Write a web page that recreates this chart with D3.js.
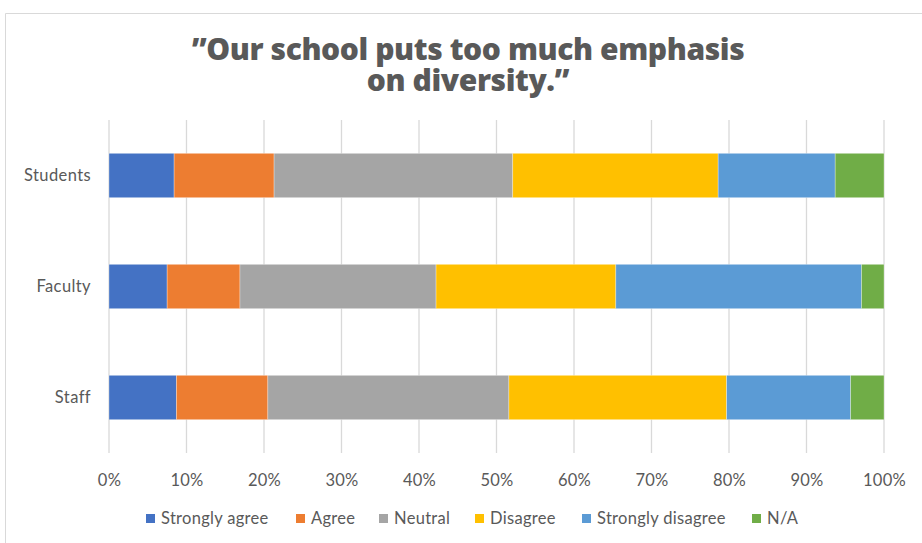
<!DOCTYPE html>
<html><head><meta charset="utf-8">
<script src="https://cdn.jsdelivr.net/npm/d3@7"></script>
<style>body{margin:0;background:#fff}svg{display:block}</style>
</head><body>
<script>
const categories = ["Students", "Faculty", "Staff"];
const seriesNames = ["Strongly agree", "Agree", "Neutral", "Disagree", "Strongly disagree", "N/A"];
const stronglyAgree    = [8.4, 7.5, 8.7];
const agree            = [12.9, 9.4, 11.8];
const neutral          = [30.8, 25.3, 31.1];
const disagree         = [26.5, 23.2, 28.1];
const stronglyDisagree = [15.1, 31.7, 16.0];
const na               = [6.3, 2.9, 4.3];
const tickValues = [0, 0.1, 0.2, 0.3, 0.4, 0.5, 0.6, 0.7, 0.8, 0.9, 1.0];
const colors = ["#4472C4", "#ED7D31", "#A5A5A5", "#FFC000", "#5B9BD5", "#70AD47"];
const titleLines = ["\u201DOur school puts too much emphasis", "on diversity.\u201D"];

const W = 922, H = 543;
const svg = d3.select("body").append("svg").attr("width", W).attr("height", H);
// chart border
svg.append("path").attr("d", `M5.5,${H} V13.5 H${W}`).attr("fill", "none").attr("stroke", "#d9d9d9").attr("stroke-width", 1);

const seriesArrays = [stronglyAgree, agree, neutral, disagree, stronglyDisagree, na];
const rows = categories.map((c, i) => {
  const o = {cat: c};
  seriesNames.forEach((s, j) => o[s] = seriesArrays[j][i]);
  return o;
});
const normRows = rows.map(r => {
  const tot = d3.sum(seriesNames, s => r[s]);
  const o = {cat: r.cat};
  seriesNames.forEach(s => o[s] = r[s] / tot);
  return o;
});
const stacked = d3.stack().keys(seriesNames)(normRows);

const x = d3.scaleLinear().domain([0, 1]).range([109, 884]);
const y = d3.scaleBand().domain(categories).range([120, 453]).paddingInner(0.6).paddingOuter(0.3);

// gridlines
svg.append("g").selectAll("line").data(tickValues).join("line")
  .attr("x1", d => x(d)).attr("x2", d => x(d))
  .attr("y1", 120).attr("y2", 453)
  .attr("stroke", "#d9d9d9").attr("stroke-width", 1.3);

// bars
svg.append("g").selectAll("g").data(stacked).join("g")
  .attr("fill", (d, i) => colors[i])
  .selectAll("rect").data(d => d).join("rect")
  .attr("x", d => x(d[0])).attr("width", d => x(d[1]) - x(d[0]))
  .attr("y", d => y(d.data.cat)).attr("height", y.bandwidth())
  .attr("stroke", "#ffffff").attr("stroke-opacity", 0.5).attr("stroke-width", 0.6);

const font = "Lato, 'Open Sans', sans-serif";
// x axis labels
const xAxis = d3.axisBottom(x).tickValues(tickValues).tickFormat(d3.format(".0%")).tickSize(0);
const gx = svg.append("g").attr("transform", "translate(0,471)").call(xAxis);
gx.select(".domain").remove();
gx.selectAll("text").attr("fill", "#595959").style("font-family", font).style("font-size", "16.5px")
  .style("letter-spacing", "0.3px");

// y axis labels
const yAxis = d3.axisLeft(y).tickSize(0).tickPadding(0);
const gy = svg.append("g").attr("transform", "translate(91,0)").call(yAxis);
gy.select(".domain").remove();
gy.selectAll("text").attr("fill", "#595959").style("font-family", font).style("font-size", "16.5px")
  .style("letter-spacing", "0.4px");

// title
svg.append("g").selectAll("text").data(titleLines).join("text")
  .attr("x", 468).attr("y", (d, i) => 60 + i * 31)
  .attr("text-anchor", "middle")
  .attr("fill", "#595959")
  .style("font-family", "'Open Sans', sans-serif").style("font-weight", 800).style("font-size", "30px")
  .style("letter-spacing", "-0.4px")
  .text(d => d);

// legend
const legendX = [146, 296, 379, 475, 582, 752];
const lg = svg.append("g").selectAll("g").data(seriesNames).join("g")
  .attr("transform", (d, i) => `translate(${legendX[i]},514)`);
lg.append("rect").attr("width", 9).attr("height", 9).attr("fill", (d, i) => colors[i]);
lg.append("text").attr("x", 15).attr("y", 10)
  .attr("fill", "#595959").style("font-family", font).style("font-size", "16.5px")
  .style("letter-spacing", "0.3px")
  .text(d => d);
</script>
</body></html>
